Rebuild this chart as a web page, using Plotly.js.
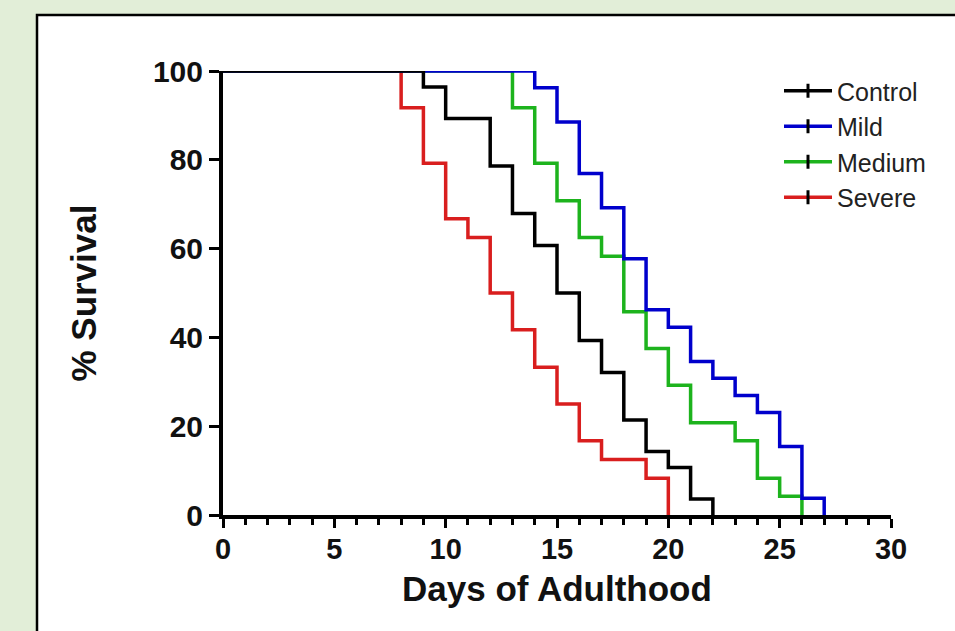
<!DOCTYPE html>
<html>
<head>
<meta charset="utf-8">
<script src="https://cdn.plot.ly/plotly-3.0.1.min.js"></script>
<style>
  html, body { margin: 0; padding: 0; background: #e2eed8; }
  #chart { width: 955px; height: 631px; }
</style>
</head>
<body>
<div id="chart"></div>
<script>
// Kaplan-Meier survival data
const groupNames = ["Control", "Mild", "Medium", "Severe"];
const groupColors = ["#000000", "#0000CC", "#1DB31D", "#D91E1E"];

const controlDays = [0, 9, 10, 12, 13, 14, 15, 16, 17, 18, 19, 20, 21, 22];
const controlSurvival = [100, 96.4, 89.3, 78.6, 67.9, 60.7, 50, 39.3, 32.1, 21.4, 14.3, 10.7, 3.6, 0];

const mildDays = [0, 14, 15, 16, 17, 18, 19, 20, 21, 22, 23, 24, 25, 26, 27];
const mildSurvival = [100, 96.2, 88.5, 76.9, 69.2, 57.7, 46.2, 42.3, 34.6, 30.8, 26.9, 23.1, 15.4, 3.8, 0];

const mediumDays = [0, 13, 14, 15, 16, 17, 18, 19, 20, 21, 23, 24, 25, 26];
const mediumSurvival = [100, 91.7, 79.2, 70.8, 62.5, 58.3, 45.8, 37.5, 29.2, 20.8, 16.7, 8.3, 4.2, 0];

const severeDays = [0, 8, 9, 10, 11, 12, 13, 14, 15, 16, 17, 19, 20];
const severeSurvival = [100, 91.7, 79.2, 66.7, 62.5, 50, 41.7, 33.3, 25, 16.7, 12.5, 8.3, 0];

const xTickVals = [0, 5, 10, 15, 20, 25, 30];
const yTickVals = [0, 20, 40, 60, 80, 100];

const allDays = [controlDays, mildDays, mediumDays, severeDays];
const allSurv = [controlSurvival, mildSurvival, mediumSurvival, severeSurvival];

const traces = [];
for (let i = groupNames.length - 1; i >= 0; i--) {
  traces.push({
    type: "scatter",
    mode: "lines",
    x: allDays[i],
    y: allSurv[i],
    name: groupNames[i],
    line: { color: groupColors[i], width: 3.5, shape: "hv" },
    showlegend: false,
    cliponaxis: false,
    hoverinfo: "x+y+name"
  });
}
for (let i = 0; i < groupNames.length; i++) {
  traces.push({
    type: "scatter",
    mode: "lines+markers",
    x: [null],
    y: [null],
    name: groupNames[i],
    legendgroup: "g" + i,
    line: { color: groupColors[i], width: 3.5 },
    marker: { symbol: "line-ns", size: 10, color: "#000", line: { color: "#000", width: 3 } },
    showlegend: true
  });
}

const boldFont = { family: "Liberation Sans, Arial, sans-serif", color: "#111", weight: "bold" };

const layout = {
  width: 955,
  height: 631,
  paper_bgcolor: "#e2eed8",
  plot_bgcolor: "rgba(0,0,0,0)",
  margin: { l: 223, r: 64, t: 71, b: 116 },
  showlegend: true,
  legend: {
    x: (779 - 223) / 668, xanchor: "left",
    y: (515 - 68) / 444, yanchor: "top",
    xref: "paper", yref: "paper",
    bgcolor: "rgba(0,0,0,0)",
    font: { family: "Liberation Sans, Arial, sans-serif", size: 25, color: "#222" },
    tracegroupgap: 0,
    itemwidth: 48
  },
  xaxis: {
    range: [0, 30],
    tickvals: xTickVals,
    ticktext: xTickVals.map(String),
    showline: true, linecolor: "#000", linewidth: 4,
    ticks: "outside", ticklen: 9, tickwidth: 3, tickcolor: "#000",
    minor: { dtick: 1, tick0: 0, ticks: "outside", ticklen: 6, tickwidth: 3, tickcolor: "#000", showgrid: false },
    showgrid: false, zeroline: false,
    ticklabelstandoff: -4,
    tickfont: Object.assign({ size: 29 }, boldFont),
    title: { text: "Days of Adulthood", font: Object.assign({ size: 35 }, boldFont), standoff: 14 }
  },
  yaxis: {
    range: [0, 100],
    tickvals: yTickVals,
    ticktext: yTickVals.map(String),
    showline: true, linecolor: "#000", linewidth: 4,
    ticks: "outside", ticklen: 10, tickwidth: 3, tickcolor: "#000",
    showgrid: false, zeroline: false,
    tickfont: Object.assign({ size: 30 }, boldFont),
    title: { text: "% Survival", font: Object.assign({ size: 35 }, boldFont), standoff: 47 }
  },
  shapes: [{
    type: "rect", layer: "below",
    xref: "paper", yref: "paper",
    x0: (37 - 223) / 668, x1: (975 - 223) / 668,
    y0: -(140) / 444, y1: (515 - 15) / 444,
    fillcolor: "#ffffff",
    line: { color: "#000", width: 2.5 }
  }]
};

Plotly.newPlot("chart", traces, layout, { displayModeBar: false, responsive: false });
</script>
</body>
</html>
